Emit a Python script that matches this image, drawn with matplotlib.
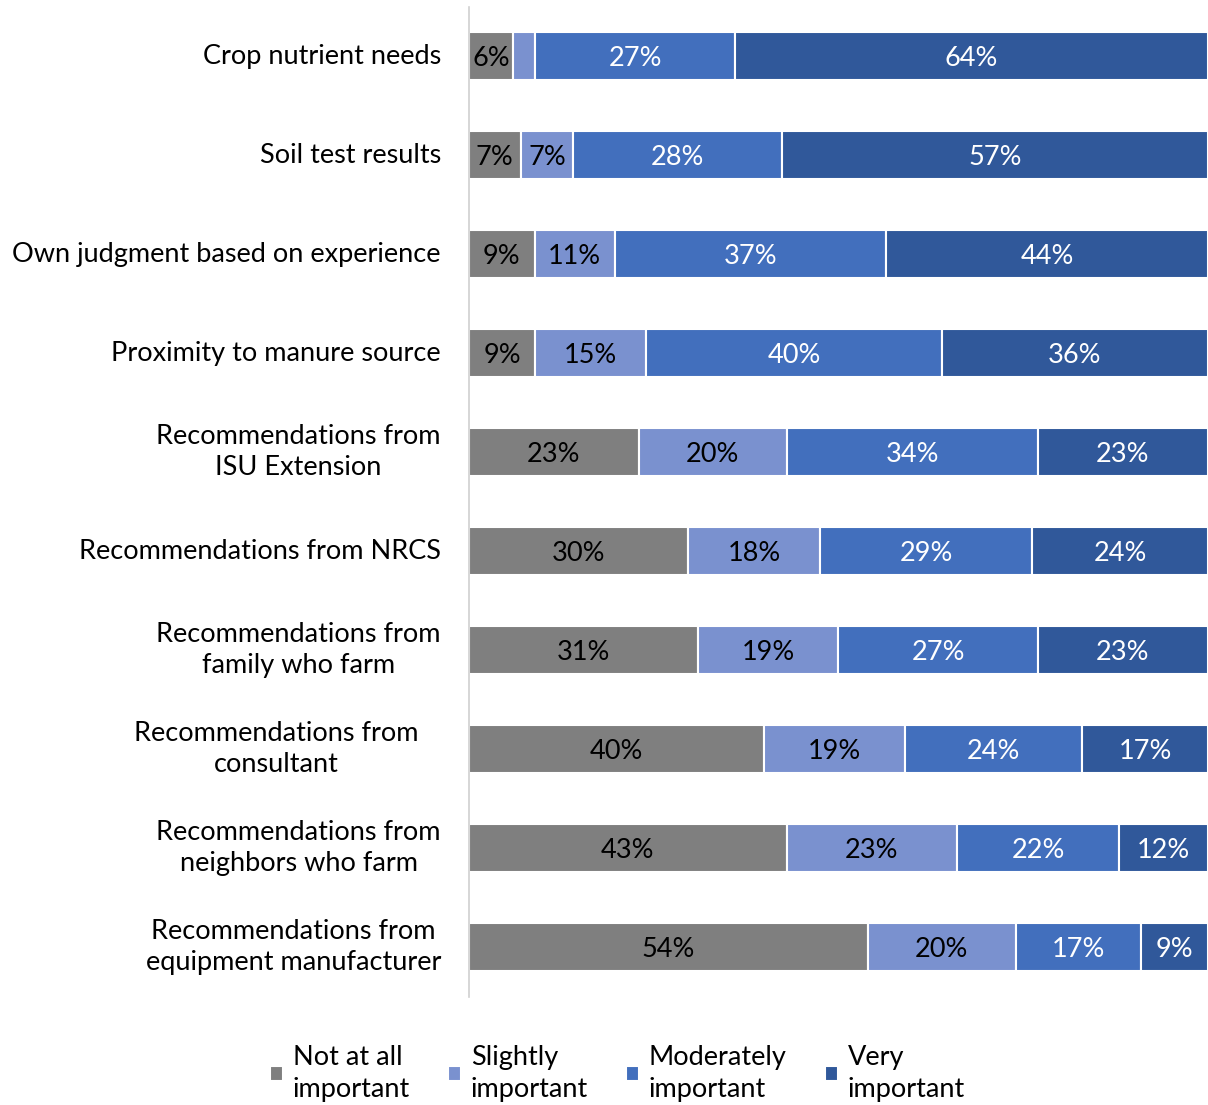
import numpy as np
import matplotlib
matplotlib.use("Agg")
import matplotlib.pyplot as plt

plt.rcParams['font.family'] = ['Lato', 'DejaVu Sans']

# Datos: importancia de factores en decisiones de aplicación de estiércol
categorias = [
    "Crop nutrient needs",
    "Soil test results",
    "Own judgment based on experience",
    "Proximity to manure source",
    "Recommendations from\nISU Extension",
    "Recommendations from NRCS",
    "Recommendations from\nfamily who farm",
    "Recommendations from\nconsultant",
    "Recommendations from\nneighbors who farm",
    "Recommendations from\nequipment manufacturer",
]
no_importante = [6, 7, 9, 9, 23, 30, 31, 40, 43, 54]
poco_importante = [3, 7, 11, 15, 20, 18, 19, 19, 23, 20]
moderado = [27, 28, 37, 40, 34, 29, 27, 24, 22, 17]
muy_importante = [64, 57, 44, 36, 23, 24, 23, 17, 12, 9]

series = ["Not at all\nimportant", "Slightly\nimportant",
          "Moderately\nimportant", "Very\nimportant"]
colores = ["#7f7f7f", "#7a91cf", "#426fbd", "#30589a"]
color_texto = ["black", "black", "white", "white"]

valores = np.array([no_importante, poco_importante, moderado, muy_importante], dtype=float)
# Barras 100% apiladas: normalizamos cada fila
porc = valores / valores.sum(axis=0) * 100

FS = 19.5

fig = plt.figure(figsize=(12.08, 11.05), dpi=100)
ax = fig.add_axes([0.388, 0.098, 0.612, 0.896])

y = np.arange(len(categorias))
izq = np.zeros(len(categorias))
for k in range(len(series)):
    ax.barh(y, porc[k], left=izq, height=0.485, color=colores[k],
            edgecolor="white", linewidth=1.5, label=series[k])
    for i in range(len(categorias)):
        v = valores[k, i]
        if v >= 5:
            ax.text(izq[i] + porc[k, i] / 2, y[i], f"{int(v)}%",
                    ha="center", va="center_baseline", fontsize=FS,
                    color=color_texto[k])
    izq += porc[k]

ax.set_xlim(0, 100)
ax.set_ylim(len(categorias) - 0.5, -0.5)
ax.set_xticks([])
ax.set_yticks([])
for s in ["top", "right", "bottom"]:
    ax.spines[s].set_visible(False)
ax.spines["left"].set_color("#d0d0d0")
ax.spines["left"].set_linewidth(1.2)

# Etiquetas de categorías (centradas en varias líneas, alineadas a la derecha)
for i, cat in enumerate(categorias):
    pad = 36 if "consultant" in cat else 20
    ax.annotate(cat, xy=(0, y[i]), xycoords=("axes fraction", "data"),
                xytext=(-pad, 0), textcoords="offset points",
                ha="right", va="center", multialignment="center",
                fontsize=FS, linespacing=1.3)

leg = fig.legend(loc="lower center", bbox_to_anchor=(0.511, -0.019), ncol=4,
                 frameon=False, fontsize=FS, handlelength=0.5, handleheight=0.5,
                 handletextpad=0.35, columnspacing=1.4)
for t in leg.get_texts():
    t.set_linespacing(1.35)

fig.savefig("out.png", dpi=100)
